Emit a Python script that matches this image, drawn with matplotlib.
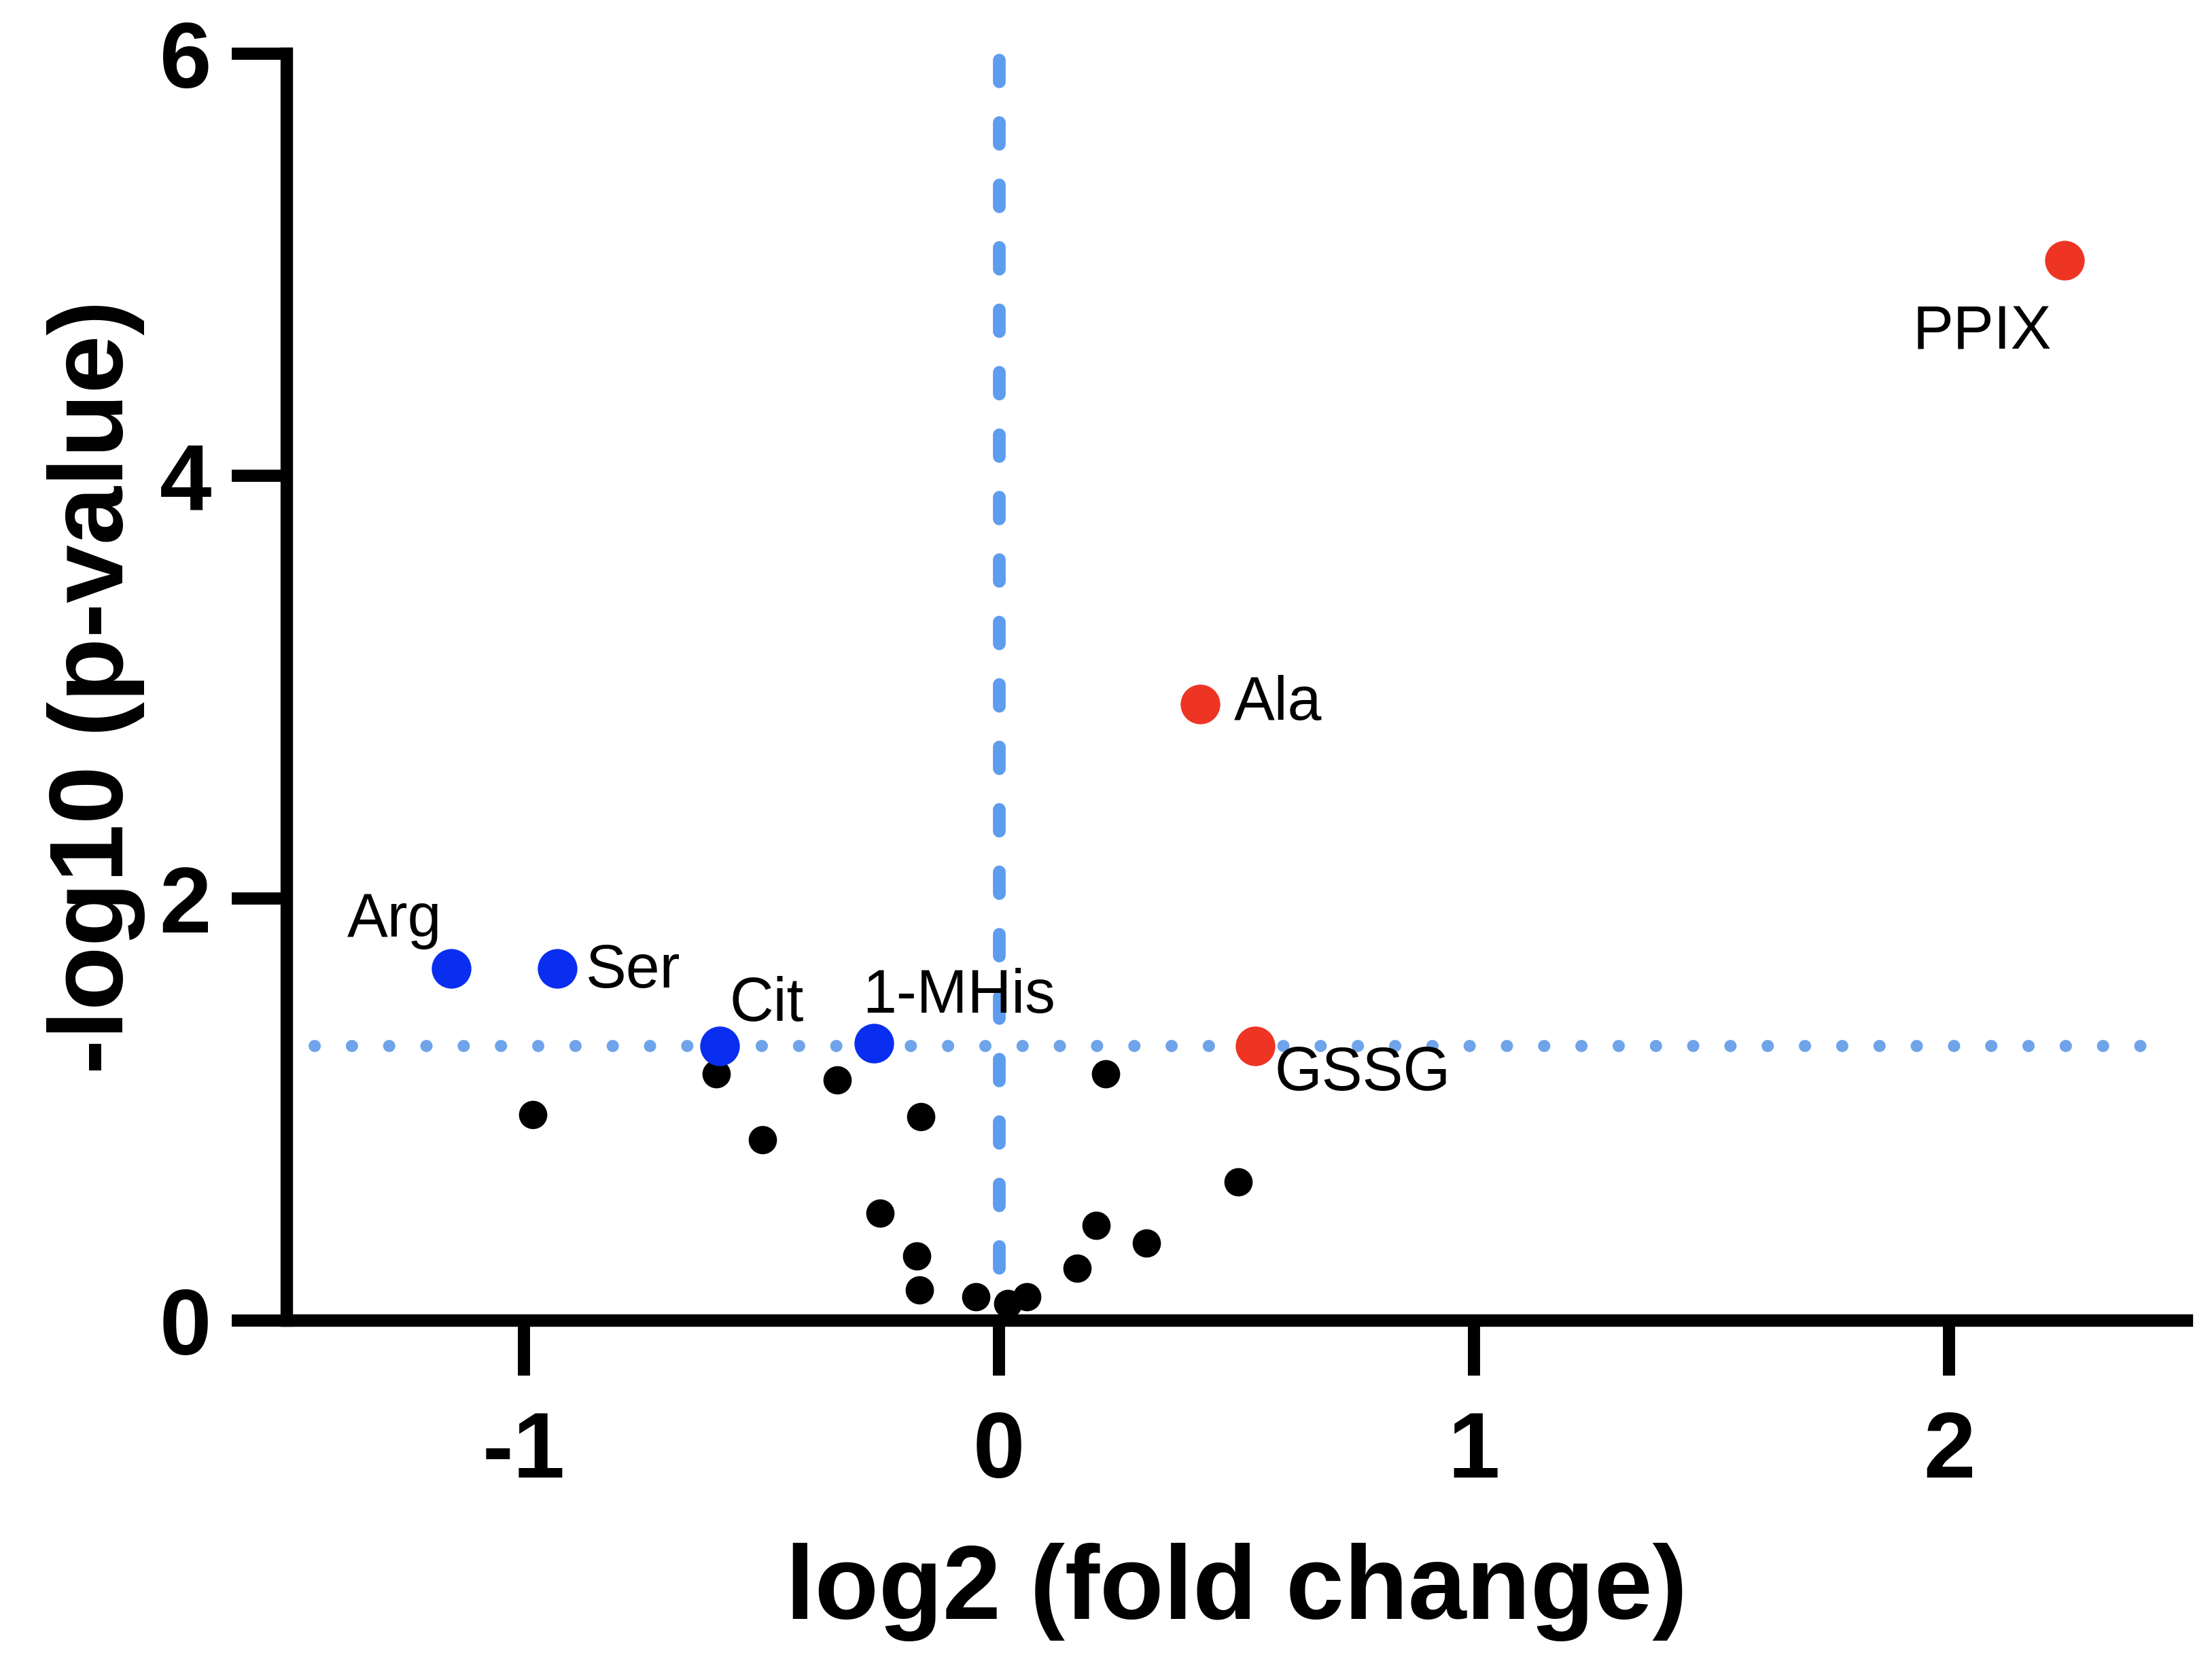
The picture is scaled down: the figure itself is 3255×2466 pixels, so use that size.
import matplotlib
matplotlib.use("Agg")
import matplotlib.pyplot as plt

plt.rcParams['font.family'] = ['Liberation Sans', 'DejaVu Sans']
plt.rcParams['axes.unicode_minus'] = False

# ---- data ----
bg_x = [-0.981, -0.595, -0.498, -0.341, -0.164, -0.251, -0.173, -0.167,
        -0.048, 0.019, 0.059, 0.165, 0.204, 0.310, 0.224, 0.503]
bg_y = [0.975, 1.168, 0.856, 1.139, 0.966, 0.509, 0.306, 0.145,
        0.113, 0.080, 0.113, 0.248, 0.451, 0.367, 1.168, 0.656]

down_names = ["Arg", "Ser", "Cit", "1-MHis"]
down_x = [-1.153, -0.930, -0.588, -0.263]
down_y = [1.667, 1.667, 1.300, 1.313]

up_names = ["PPIX", "Ala", "GSSG"]
up_x = [2.243, 0.423, 0.539]
up_y = [5.02, 2.92, 1.30]

p_threshold = 1.301
fc_threshold = 0.0

x_ticks = [-1, 0, 1, 2]
y_ticks = [0, 2, 4, 6]

# ---- label placement (offset in points, alignment) ----
label_style = {
    "Arg": ((-20, 17), "center"),
    "Ser": ((10, -1), "left"),
    "Cit": ((3.5, 14.5), "left"),
    "1-MHis": ((-4, 16.5), "left"),
    "PPIX": ((-4.5, -25.5), "right"),
    "Ala": ((12, 0), "left"),
    "GSSG": ((7, -10), "left"),
}

fig = plt.figure(figsize=(3255 / 300, 2466 / 300), dpi=300)
ax = fig.add_axes([0.1295, 0.212, 0.859, 0.756])

ax.plot([fc_threshold, fc_threshold], [5.97, 0.1], color="#5E9CEE", lw=4.5,
        linestyle=(0, (1.7, 3.2)), dash_capstyle='round', zorder=1)
ax.plot([-1.44, 2.47], [p_threshold, p_threshold], color="#6FA3EA", lw=4.3,
        linestyle=(0, (0.01, 3.05)), dash_capstyle='round', zorder=1)

ax.scatter(bg_x, bg_y, s=10 ** 2, color="black", linewidths=0, zorder=3)
ax.scatter(down_x, down_y, s=14 ** 2, color="#0A2EF0", linewidths=0, zorder=3)
ax.scatter(up_x, up_y, s=14 ** 2, color="#EE3524", linewidths=0, zorder=3)

for names, xs, ys in ((down_names, down_x, down_y), (up_names, up_x, up_y)):
    for n, x, y in zip(names, xs, ys):
        off, ha = label_style[n]
        ax.annotate(n, (x, y), xytext=off, textcoords="offset points",
                    ha=ha, va="center", fontsize=21.5, color="black", zorder=4)

ax.set_xlim(-1.5, 2.5)
ax.set_ylim(0, 6)
ax.set_xticks(x_ticks)
ax.set_yticks(y_ticks)
ax.set_xticklabels([str(t) for t in x_ticks])
ax.set_yticklabels([str(t) for t in y_ticks])

for s in ("top", "right"):
    ax.spines[s].set_visible(False)
for s in ("left", "bottom"):
    ax.spines[s].set_linewidth(4.4)
    ax.spines[s].set_capstyle("projecting")

ax.tick_params(axis="both", length=19.5, width=4.3, labelsize=33)
ax.tick_params(axis="x", pad=12)
ax.tick_params(axis="y", pad=7)
for lab in ax.get_xticklabels() + ax.get_yticklabels():
    lab.set_fontweight("bold")

ax.set_xlabel("log2 (fold change)", fontsize=37, fontweight="bold", labelpad=16)
ax.set_ylabel("-log10 (p-value)", fontsize=37, fontweight="bold", labelpad=5)

fig.savefig("out.png", dpi=300, facecolor="white")
